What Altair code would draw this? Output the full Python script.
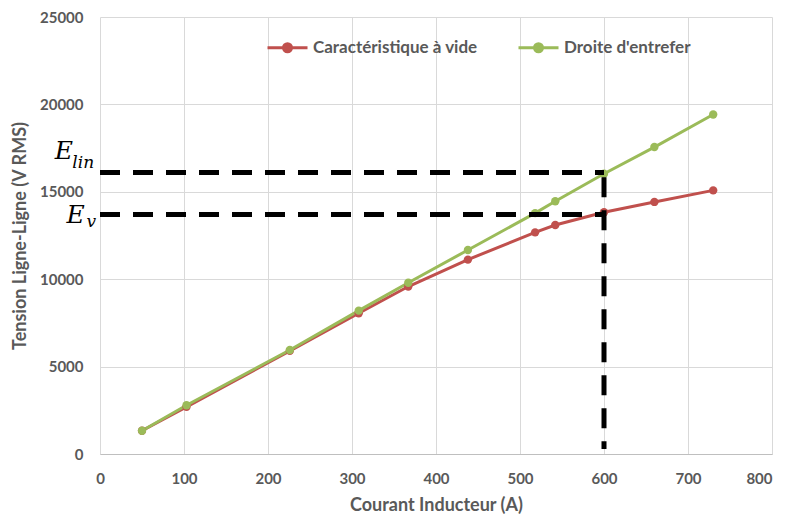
import altair as alt
import pandas as pd

courant = [50, 103, 226, 308, 367, 438, 518, 542, 600, 660, 730]
e_vide = [1330, 2700, 5900, 8050, 9580, 11120, 12680, 13100, 13830, 14420, 15080]
e_lin = [1330, 2790, 5950, 8200, 9800, 11670, 13780, 14460, 16030, 17560, 19420]
series_names = ["Caractéristique à vide", "Droite d'entrefer"]
colors = ["#c0504d", "#9bbb59"]

E_lin_level = 16100
E_v_level = 13700
I_mark = 600

rows = []
for i, v in zip(courant, e_vide):
    rows.append({"I": i, "E": v, "serie": series_names[0]})
for i, v in zip(courant, e_lin):
    rows.append({"I": i, "E": v, "serie": series_names[1]})
df = pd.DataFrame(rows)

font = "Lato"
gray = "#595959"

legend_path = "M-1,0L1,0M0.2,0A0.2,0.2,0,1,1,-0.2,0A0.2,0.2,0,1,1,0.2,0Z"

xsc = alt.Scale(domain=[0, 800], nice=False)
ysc = alt.Scale(domain=[0, 25000], nice=False)

color = alt.Color(
    "serie:N",
    scale=alt.Scale(domain=series_names, range=colors),
    legend=alt.Legend(
        title=None, orient="none", legendX=166, legendY=9, direction="horizontal",
        symbolType=legend_path, symbolSize=1600, symbolStrokeWidth=3,
        labelFont=font, labelFontSize=17, labelFontWeight="bold", labelColor=gray,
        columnPadding=34, labelOffset=4, labelLimit=300,
    ),
)

base = alt.Chart(df).encode(
    x=alt.X("I:Q", scale=xsc,
            axis=alt.Axis(title="Courant Inducteur (A)", format="d", labelFlush=False,
                          labelAlign={"condition": {"test": "datum.value === 800", "value": "right"},
                                      "value": "center"},
                          values=list(range(0, 801, 100)))),
    y=alt.Y("E:Q", scale=ysc,
            axis=alt.Axis(title="Tension Ligne-Ligne (V RMS)", format="d",
                          values=list(range(0, 25001, 5000)))),
    color=color,
)
lines = base.mark_line(strokeWidth=3)
points = base.mark_point(filled=True, size=70, opacity=1)

hdf = pd.DataFrame({"x": [0, 0], "x2": [I_mark, I_mark], "y": [E_lin_level, E_v_level]})
hrules = alt.Chart(hdf).mark_rule(color="black", strokeWidth=5, strokeDash=[20, 13]).encode(
    x="x:Q", x2="x2:Q", y="y:Q")
vdf = pd.DataFrame({"x": [I_mark], "y": [15830], "y2": [280]})
vrule = alt.Chart(vdf).mark_rule(color="black", strokeWidth=5, strokeDash=[20, 13]).encode(
    x="x:Q", y="y:Q", y2="y2:Q")

ldf = pd.DataFrame({"x": [-54, -40], "y": [17330, 13680], "t": ["E", "E"]})
big = alt.Chart(ldf).mark_text(font="DejaVu Serif", fontStyle="italic", fontSize=25,
                                color="black", align="left", baseline="middle", clip=False).encode(
    x="x:Q", y="y:Q", text="t:N")
sdf = pd.DataFrame({"x": [-33, -16], "y": [16650, 13250], "t": ["lin", "v"]})
sub = alt.Chart(sdf).mark_text(font="DejaVu Serif", fontStyle="italic", fontSize=17,
                                color="black", align="left", baseline="middle", clip=False).encode(
    x="x:Q", y="y:Q", text="t:N")

chart = alt.layer(lines, points, hrules, vrule, big, sub).properties(
    width=672, height=437,
    padding={"top": 2, "left": 3, "right": 4, "bottom": 0},
).configure_view(stroke=None).configure_axis(
    labelFont=font, labelFontSize=15, labelFontWeight="bold", labelColor=gray,
    titleFont=font, titleFontSize=18, titleFontWeight="bold", titleColor=gray,
    gridColor="#d9d9d9", gridWidth=1, domain=False, ticks=False,
).configure_axisX(
    domain=True, domainColor="#bfbfbf", labelPadding=17, titlePadding=10,
).configure_axisY(
    labelPadding=17, titlePadding=10,
)

chart.save("out.html", embed_options={"renderer": "svg", "actions": False})
